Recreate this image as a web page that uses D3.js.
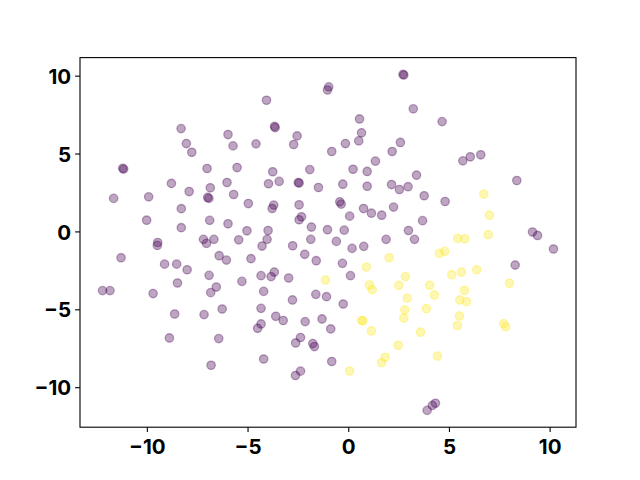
<!DOCTYPE html>
<html lang="en">

<head>
    <meta charset="UTF-8">
    <title>Scatter</title>
    <script src="https://d3js.org/d3.v7.min.js"></script>
    <style>
        body { margin: 0; background: #fff; }
        svg { display: block; }
        .tick text { font-family: Inter, sans-serif; font-weight: bold; font-size: 20.5px; fill: #000; }
    </style>
</head>

<body>
    <svg id="chart" width="640" height="480"></svg>

    <script>
        // class 0 (purple) points
        const purpleX = [-8.30, -5.97, -8.04, -7.77, -5.72, -11.20, -11.15, -7.01, -5.52, -8.78,
            -6.85, -6.02, -7.90, -11.65, -9.91, -6.98, -6.92, -5.69, -4.96, -8.29,
            -10.01, -6.88, -5.97, -8.29, -5.03, -7.19, -6.67, -5.44, -7.04, -9.46,
            -9.48, 2.72, 2.76, -0.97, -1.03, -4.06, 3.23, 0.56, -3.66, -3.63,
            -2.54, 0.66, -4.58, -2.71, -0.14, 0.52, 2.59, -0.82, 2.18, 1.35,
            -3.75, -1.91, 0.24, 0.94, -3.96, -3.43, -2.48, -2.44, -1.48, -0.27,
            0.94, 2.15, 2.54, 2.97, 3.39, -3.70, -3.78, -2.44, -0.42, -0.35,
            0.76, 1.15, 1.66, 2.25, 0.07, -2.32, -2.44, -1.83, -3.98, -1.03,
            -0.20, 2.99, -4.03, -1.86, -0.59, 1.88, 3.29, 4.66, 5.69, 6.06,
            6.58, 8.37, 3.77, 4.81, 3.69, 9.15, 9.40, -11.28, -9.12, -8.52,
            -8.00, -6.41, -6.05, -6.91, -4.83, -12.20, -11.83, -9.69, -8.48, -6.83,
            -6.55, -5.28, -8.62, -7.16, -6.26, -8.88, -6.43, -6.81, -4.28, -2.76,
            0.19, 0.77, -2.16, -1.59, -0.29, -4.33, -3.83, -3.67, -2.96, 0.11,
            -4.20, -2.77, -1.61, -1.08, -0.25, -4.33, -3.60, -3.23, -2.14, -1.30,
            -0.87, -4.33, -4.50, -2.37, -2.61, -1.76, -1.68, -4.20, -0.82, -2.37,
            -2.62, 10.19, 8.29, 4.33, 4.18, 3.92];
        const purpleY = [6.60, 6.22, 5.64, 5.08, 5.49, 4.05, 4.00, 4.04, 4.10, 3.08,
            2.80, 3.14, 2.56, 2.12, 2.22, 2.18, 2.12, 2.37, 1.79, 1.46,
            0.72, 0.71, 0.49, 0.24, 0.04, -0.51, -0.51, -0.54, -0.77, -0.71,
            -0.90, 10.08, 10.04, 9.28, 9.08, 8.42, 7.87, 7.22, 6.74, 6.66,
            6.13, 6.33, 5.62, 5.58, 5.64, 5.81, 5.71, 5.13, 5.13, 4.51,
            3.83, 3.97, 3.99, 3.85, 3.06, 3.21, 3.14, 3.10, 2.82, 3.03,
            2.90, 3.01, 2.69, 2.87, 3.61, 1.69, 1.47, 1.71, 1.90, 1.75,
            1.47, 1.17, 1.04, 1.56, 0.98, 0.94, 0.75, 0.28, 0.06, 0.11,
            0.08, 0.06, -0.51, -0.51, -0.64, -0.51, -0.51, 7.05, 4.53, 4.79,
            4.92, 3.27, 2.29, 1.92, 0.69, -0.04, -0.26, -1.69, -2.10, -2.10,
            -2.46, -1.56, -1.84, -2.82, -1.75, -3.80, -3.80, -3.99, -3.31, -3.93,
            -3.57, -3.21, -5.30, -5.34, -4.98, -6.84, -6.88, -8.59, -0.94, -0.92,
            -1.09, -0.96, -1.47, -1.88, -2.05, -2.84, -2.90, -2.61, -2.99, -2.84,
            -3.85, -4.40, -4.04, -4.19, -4.66, -4.94, -5.45, -5.72, -5.79, -5.62,
            -6.26, -5.94, -6.22, -6.81, -7.16, -7.20, -7.39, -8.19, -8.35, -8.97,
            -9.25, -1.13, -2.16, -11.03, -11.17, -11.49];

        // class 1 (yellow) points
        const yellowX = [6.73, 7.01, 5.44, 5.79, 6.95, 2.03, 0.90, -1.13, 1.05, 1.19,
            2.84, 2.51, 2.93, 2.81, 2.76, 0.67, 0.73, 1.15, 2.48, 1.83,
            1.65, 0.07, 4.52, 4.79, 5.14, 5.62, 6.38, 8.01, 4.05, 4.28,
            5.77, 5.54, 5.87, 3.88, 5.52, 5.42, 7.72, 7.82, 3.59, 4.43];
        const yellowY = [2.39, 1.04, -0.45, -0.47, -0.21, -1.69, -2.29, -3.12, -3.44, -3.74,
            -2.90, -3.46, -4.28, -5.04, -5.56, -5.72, -5.74, -6.39, -7.31, -8.08,
            -8.42, -8.96, -1.41, -1.28, -2.78, -2.61, -2.46, -3.33, -3.46, -4.08,
            -3.78, -4.40, -4.51, -4.96, -5.43, -6.04, -5.92, -6.13, -6.47, -8.01];

        const xTicks = [-10, -5, 0, 5, 10];
        const yTicks = [-10, -5, 0, 5, 10];
        const colors = ['#440154', '#fde725'];

        const margin = { top: 57.6, right: 64, bottom: 52.8, left: 80 },
            width = 640 - margin.left - margin.right,
            height = 480 - margin.top - margin.bottom;

        const svg = d3.select('#chart');
        const g = svg.append('g').attr('transform', `translate(${margin.left},${margin.top})`);

        // matplotlib style 5% padding around data
        const allX = purpleX.concat(yellowX), allY = purpleY.concat(yellowY);
        const [x0, x1] = d3.extent(allX), [y0, y1] = d3.extent(allY);
        const px = (x1 - x0) * 0.05, py = (y1 - y0) * 0.05;

        const x = d3.scaleLinear().domain([x0 - px, x1 + px]).range([0, width]);
        const y = d3.scaleLinear().domain([y0 - py, y1 + py]).range([height, 0]);

        const fmt = d => (d < 0 ? '\u2212' : '') + Math.abs(d);

        g.append('g')
            .attr('transform', `translate(0,${height})`)
            .call(d3.axisBottom(x).tickValues(xTicks).tickFormat(fmt).tickSizeOuter(0).tickSize(4.9).tickPadding(7))
            .call(a => a.select('.domain').remove());

        g.append('g')
            .call(d3.axisLeft(y).tickValues(yTicks).tickFormat(fmt).tickSizeOuter(0).tickSize(4.9).tickPadding(4))
            .call(a => a.select('.domain').remove())
            .call(a => a.selectAll('.tick text').attr('dy', '0.37em'));

        g.selectAll('.tick line').attr('stroke', '#000').attr('stroke-width', 1.1);

        const points = [];
        purpleX.forEach((v, i) => points.push({ x: v, y: purpleY[i], c: 0 }));
        yellowX.forEach((v, i) => points.push({ x: v, y: yellowY[i], c: 1 }));

        g.selectAll('circle')
            .data(points)
            .join('circle')
            .attr('cx', d => x(d.x))
            .attr('cy', d => y(d.y))
            .attr('r', 4.2)
            .attr('fill', d => colors[d.c])
            .attr('fill-opacity', 0.35)
            .attr('stroke', d => colors[d.c])
            .attr('stroke-opacity', 0.35)
            .attr('stroke-width', 1.3);

        // frame
        g.append('rect')
            .attr('width', width)
            .attr('height', height)
            .attr('fill', 'none')
            .attr('stroke', '#000')
            .attr('stroke-width', 1.1);
    </script>
</body>

</html>
